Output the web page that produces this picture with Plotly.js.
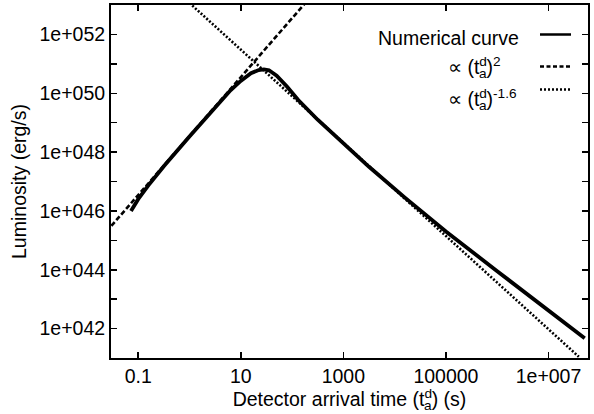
<!DOCTYPE html>
<html>
<head>
<meta charset="utf-8">
<script src="https://cdn.plot.ly/plotly-3.0.1.min.js"></script>
<style>
html,body{margin:0;padding:0;background:#fff;}
#chart{width:594px;height:414px;}
</style>
</head>
<body>
<div id="chart"></div>
<script>
// Numerical curve (detector arrival time in s, luminosity in erg/s)
var numT = [0.0724, 0.1, 0.158, 0.316, 1, 3.16, 6.31, 10, 15.8, 22.4, 28.2, 35.5, 50.1, 79.4, 132, 316, 1000, 3162, 15849, 1e5, 1e6, 1e7, 5.08e7];
var numL = [1.0e46, 2.51e46, 7.41e46, 3.31e47, 3.39e48, 3.39e49, 1.26e50, 2.63e50, 4.79e50, 6.17e50, 6.46e50, 6.03e50, 3.98e50, 1.70e50, 5.89e49, 1.26e49, 2.0e48, 3.16e47, 2.82e46, 2.0e45, 8.91e43, 3.98e42, 4.68e41];
// proportional to t^2 (end points)
var sqT = [0.03, 180];
var sqL = [3.1e45, 1.15e53];
// proportional to t^-1.6
var decT = [1.0, 3.9e7];
var decL = [1.17e53, 1.1e41];

var xTickVals = [0.1, 10, 1000, 1e5, 1e7];
var xTickText = ["0.1", "10", "1000", "100000", "1e+007"];
var yTickVals = [1e41,1e42,1e43,1e44,1e45,1e46,1e47,1e48,1e49,1e50,1e51,1e52,1e53];
var yTickText = ["","1e+042","","1e+044","","1e+046","","1e+048","","1e+050","","1e+052",""];

var legendNames = ["Numerical curve", "\u221d (t<sup><span style=\"letter-spacing:-8px\">d</span></sup><sub>a</sub>)<sup>2</sup>", "\u221d (t<sup><span style=\"letter-spacing:-8px\">d</span></sup><sub>a</sub>)<sup>-1.6</sup>"];

var FONT = "Liberation Sans, Arial, Helvetica, sans-serif";
var FS = 19.5;

var traces = [
  {x: numT, y: numL, mode: "lines", line: {color: "#000", width: 3.8}, showlegend: false},
  {x: sqT, y: sqL, mode: "lines", line: {color: "#000", width: 2.6, dash: "5px,2.5px"}, showlegend: false},
  {x: decT, y: decL, mode: "lines", line: {color: "#000", width: 2.6, dash: "2px,1.8px"}, showlegend: false}
];

function pxX(px){ return (px - 111) / 477; }
function pxY(py){ return 1 - (py - 5) / 353; }

var layout = {
  width: 594, height: 414,
  margin: {l: 111, r: 6, t: 5, b: 56},
  paper_bgcolor: "#fff", plot_bgcolor: "#fff",
  font: {family: FONT, size: FS, color: "#000"},
  showlegend: false,
  xaxis: {
    type: "log", range: [-1.53, 7.77],
    tickvals: xTickVals, ticktext: xTickText,
    ticks: "inside", ticklen: 6, tickwidth: 1.5, tickcolor: "#000",
    showline: true, linewidth: 2, linecolor: "#000", mirror: "ticks",
    showgrid: false, zeroline: false,
    tickfont: {family: FONT, size: FS, color: "#000"},
    title: {text: "Detector arrival time (t<sup><span style=\"letter-spacing:-8px\">d</span></sup><sub>a</sub>) (s)", font: {family: FONT, size: FS, color: "#000"}, standoff: 6}
  },
  yaxis: {
    type: "log", range: [41, 53],
    tickvals: yTickVals, ticktext: yTickText,
    ticks: "inside", ticklen: 6, tickwidth: 1.5, tickcolor: "#000",
    showline: true, linewidth: 2, linecolor: "#000", mirror: "ticks",
    showgrid: false, zeroline: false,
    tickfont: {family: FONT, size: FS, color: "#000"},
    title: {text: "Luminosity (erg/s)", font: {family: FONT, size: FS, color: "#000"}, standoff: 8}
  },
  shapes: [
    {type: "line", xref: "paper", yref: "paper", x0: pxX(540), x1: pxX(571), y0: pxY(34.5), y1: pxY(34.5), line: {color: "#000", width: 2.5}},
    {type: "line", xref: "paper", yref: "paper", x0: pxX(540), x1: pxX(571), y0: pxY(66.5), y1: pxY(66.5), line: {color: "#000", width: 2.5, dash: "4px,2.5px"}},
    {type: "line", xref: "paper", yref: "paper", x0: pxX(540), x1: pxX(571), y0: pxY(89.5), y1: pxY(89.5), line: {color: "#000", width: 2.5, dash: "2px,2px"}}
  ],
  annotations: [
    {xref: "paper", yref: "paper", x: pxX(521), y: pxY(37.5), xanchor: "right", yanchor: "middle", text: legendNames[0], showarrow: false, font: {family: FONT, size: FS, color: "#000"}},
    {xref: "paper", yref: "paper", x: pxX(446), y: pxY(67), xanchor: "left", yanchor: "middle", text: legendNames[1], showarrow: false, font: {family: FONT, size: FS, color: "#000"}},
    {xref: "paper", yref: "paper", x: pxX(446), y: pxY(99), xanchor: "left", yanchor: "middle", text: legendNames[2], showarrow: false, font: {family: FONT, size: FS, color: "#000"}}
  ]
};

Plotly.newPlot("chart", traces, layout, {displayModeBar: false, staticPlot: true});
</script>
</body>
</html>
